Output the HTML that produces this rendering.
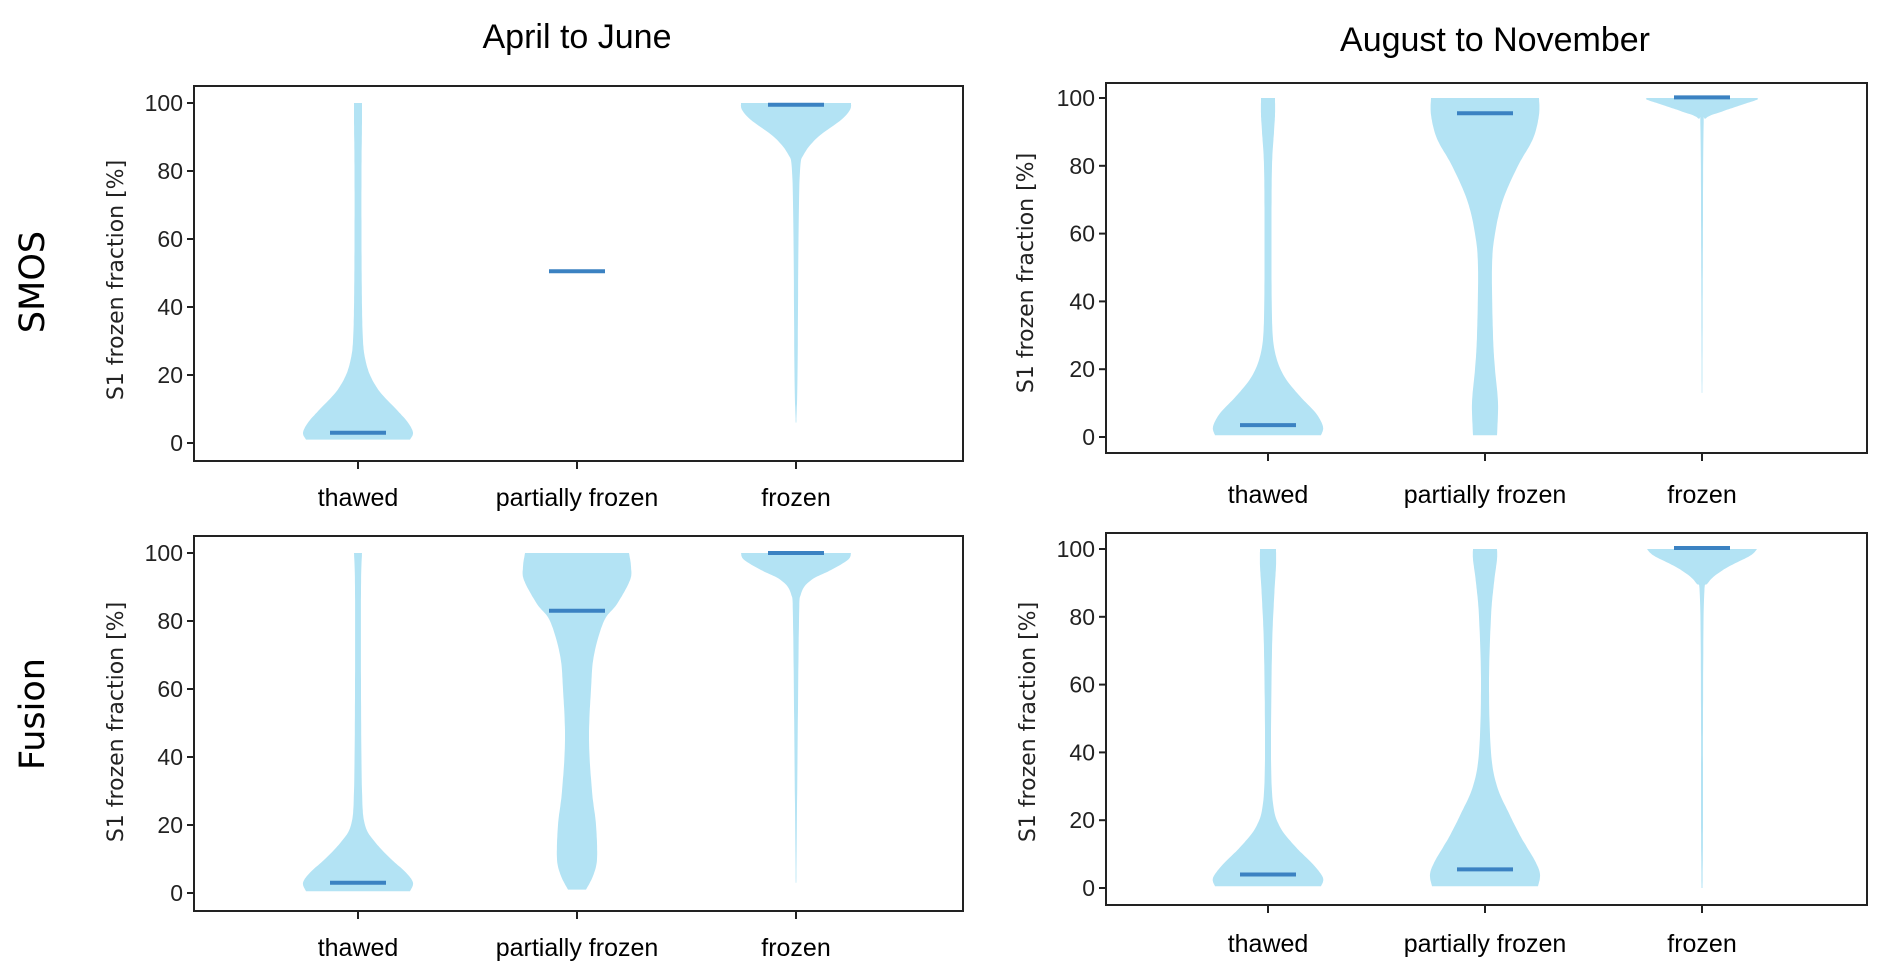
<!DOCTYPE html>
<html><head><meta charset="utf-8"><style>
html,body{margin:0;padding:0;background:#fff;}
svg{display:block;}
</style></head><body>
<svg id="s" xmlns="http://www.w3.org/2000/svg" width="1892" height="980" viewBox="0 0 1892 980">
<rect width="1892" height="980" fill="#fff"/>
<text x="577" y="48" font-family="Liberation Sans, sans-serif" font-size="34" text-anchor="middle" fill="#000">April to June</text>
<text x="1495" y="51" font-family="Liberation Sans, sans-serif" font-size="34" text-anchor="middle" fill="#000">August to November</text>
<text transform="translate(44,282) rotate(-90)" font-family="DejaVu Sans, sans-serif" font-size="35" text-anchor="middle" fill="#000">SMOS</text>
<text transform="translate(44,714) rotate(-90)" font-family="DejaVu Sans, sans-serif" font-size="35" text-anchor="middle" fill="#000">Fusion</text>
<g id="g"></g>
</svg>
<script>
var NS="http://www.w3.org/2000/svg",g=document.getElementById('g');
function el(t,a,txt){var e=document.createElementNS(NS,t);for(var k in a)e.setAttribute(k,a[k]);if(txt!=null)e.textContent=txt;g.appendChild(e);return e;}
function cr(pts,n){
 var out=[];for(var i=0;i<pts.length-1;i++){var p0=pts[Math.max(0,i-1)],p1=pts[i],p2=pts[i+1],p3=pts[Math.min(pts.length-1,i+2)];
 for(var j=0;j<n;j++){var t=j/n,t2=t*t,t3=t2*t;
 var f=function(a,b,c,d){return 0.5*((2*b)+(-a+c)*t+(2*a-5*b+4*c-d)*t2+(-a+3*b-3*c+d)*t3);};
 out.push([f(p0[0],p1[0],p2[0],p3[0]),Math.max(0,f(p0[1],p1[1],p2[1],p3[1]))]);}}
 out.push(pts[pts.length-1]);return out;}
var panels=[
 {L:194,R:963,T:86,B:461,y100:103,y0:443,tx:[358,577,796],ly:280,lx:116,xl:506,
  v:[[[1,52],[3,55],[6,50],[10,38],[15,22],[20,12],[25,7],[30,5],[40,4],[60,3.5],[80,3.5],[95,4],[100,4]],null,
     [[6,0.3],[20,1.5],[60,2.5],[80,4],[85,8],[90,22],[95,45],[98,54],[100,55]]],m:[3,50.5,99.5]},
 {L:1106,R:1867,T:83,B:453,y100:98,y0:437,tx:[1268,1485,1702],ly:273,lx:1026,xl:503,
  v:[[[0.5,53],[3,55],[7,48],[12,32],[18,16],[25,7],[35,4],[60,3.5],[80,4],[90,6],[95,7],[100,7]],
     [[0.5,12],[10,13],[20,10],[30,8],[50,7],[60,10],[70,18],[80,33],[88,48],[95,54],[100,54]],
     [[13,0.3],[50,0.8],[90,1.5],[94,4],[96,20],[98,40],[99.5,55],[100,55]]],m:[3.5,95.5,100.2]},
 {L:194,R:963,T:536,B:911,y100:553,y0:893,tx:[358,577,796],ly:722,lx:116,xl:956,
  v:[[[0.5,52],[3,55],[6,48],[10,33],[15,17],[20,7],[30,4],[60,3],[90,3],[100,4]],
     [[1,9],[5,16],[10,20],[20,19],[30,15],[45,12],[60,14],[70,17],[80,27],[85,40],[92,53],[96,54],[100,52]],
     [[3,0.3],[40,1.5],[80,3],[88,5],[92,15],[95,35],[98,52],[100,55]]],m:[3,83,100]},
 {L:1106,R:1867,T:533,B:905,y100:549,y0:888,tx:[1268,1485,1702],ly:722,lx:1028,xl:952,
  v:[[[0.5,53],[3,55],[7,45],[12,28],[18,12],[25,5],[40,3],[70,4],[85,6],[95,8],[100,8]],
     [[0.5,53],[4,55],[8,50],[15,36],[22,24],[30,12],[40,6],[60,4],[80,6],[90,9],[97,12],[100,12]],
     [[0,0.5],[20,1],[50,1],[85,2],[90,6],[94,22],[98,48],[100,55]]],m:[4,5.5,100.3]}
];
var cats=["thawed","partially frozen","frozen"];
panels.forEach(function(p){
 var Y=function(v){return p.y0+(p.y100-p.y0)*v/100;};
 p.v.forEach(function(prof,i){ if(!prof)return; var cx=p.tx[i];
  var s=cr(prof,12),d="";
  s.forEach(function(q,k){d+=(k?"L":"M")+(cx+q[1]).toFixed(1)+","+Y(q[0]).toFixed(1);});
  for(var k=s.length-1;k>=0;k--){d+="L"+(cx-s[k][1]).toFixed(1)+","+Y(s[k][0]).toFixed(1);}
  el('path',{d:d+"Z",fill:"#b3e3f4",stroke:"none"});
 });
 p.m.forEach(function(v,i){var cx=p.tx[i];el('line',{x1:cx-28,x2:cx+28,y1:Y(v),y2:Y(v),stroke:"#3b82c2","stroke-width":4});});
 el('rect',{x:p.L,y:p.T,width:p.R-p.L,height:p.B-p.T,fill:"none",stroke:"#222","stroke-width":2});
 for(var v=0;v<=100;v+=20){var y=Y(v);el('line',{x1:p.L-7,x2:p.L,y1:y,y2:y,stroke:"#222","stroke-width":2});
  el('text',{x:p.L-11,y:y+8,"font-family":"Liberation Sans Narrow, Liberation Sans, sans-serif","font-size":23,"text-anchor":"end",fill:"#222"},String(v));}
 p.tx.forEach(function(x,i){el('line',{x1:x,x2:x,y1:p.B,y2:p.B+8,stroke:"#222","stroke-width":2});
  el('text',{x:x,y:p.xl,"font-family":"Liberation Sans, sans-serif","font-size":25,"text-anchor":"middle",fill:"#000"},cats[i]);});
 el('text',{transform:"translate("+(p.lx+7)+","+p.ly+") rotate(-90)","font-family":"DejaVu Sans, sans-serif","font-size":22,"text-anchor":"middle",fill:"#222"},"S1 frozen fraction [%]");
});
</script>
</body></html>
